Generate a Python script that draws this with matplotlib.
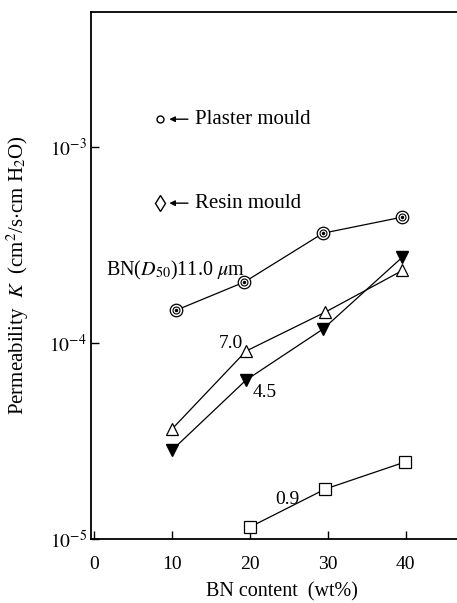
import numpy as np
import matplotlib.pyplot as plt

plt.rcParams['font.family'] = ['Liberation Serif', 'DejaVu Serif']
plt.rcParams['mathtext.fontset'] = 'stix'

# BN content (wt%)
bn_110 = [10.5, 19.3, 29.4, 39.5]
k_110 = [1.47e-4, 2.05e-4, 3.64e-4, 4.39e-4]

bn_70 = [10, 19.5, 29.7, 39.6]
k_70 = [3.64e-5, 9.1e-5, 1.44e-4, 2.35e-4]

bn_45 = [10, 19.5, 29.4, 39.6]
k_45 = [2.84e-5, 6.47e-5, 1.18e-4, 2.75e-4]

bn_09 = [20, 29.7, 39.9]
k_09 = [1.15e-5, 1.8e-5, 2.47e-5]

plaster_k = 1.39e-3
resin_k = 5.18e-4

fig = plt.figure(figsize=(4.57, 6.03), dpi=100)
ax = fig.add_axes([91 / 457, 1 - 539 / 603, 1 - 91 / 457, (539 - 12) / 603])
ax.set_yscale('log')
ax.set_xlim(-0.4, 46.6)
ax.set_ylim(1e-5, 4.9e-3)

lw = 0.9
# 11.0 um: double circle
ax.plot(bn_110, k_110, '-', color='k', lw=lw, marker='o', ms=9,
        mfc='white', mec='k', mew=0.9)
ax.plot(bn_110, k_110, 'o', ms=5, mfc='white', mec='k', mew=0.8)
ax.plot(bn_110, k_110, 'o', ms=1.5, color='k')
# 7.0 um: open triangle
ax.plot(bn_70, k_70, '-', color='k', lw=lw, marker='^', ms=9,
        mfc='white', mec='k', mew=0.9)
# 4.5 um: filled inverted triangle
ax.plot(bn_45, k_45, '-', color='k', lw=lw, marker='v', ms=9,
        mfc='k', mec='k')
# 0.9 um: open square
ax.plot(bn_09, k_09, '-', color='k', lw=lw, marker='s', ms=9,
        mfc='white', mec='k', mew=0.9)

# mould reference points
ax.plot([8.5], [plaster_k], 'o', ms=5, mfc='white', mec='k', mew=1.0)
ax.plot([8.5], [resin_k], 'd', ms=8, mfc='white', mec='k', mew=1.0)
ax.annotate('', xy=(9.3, plaster_k), xytext=(12.4, plaster_k),
            arrowprops=dict(arrowstyle='-|>', color='k', lw=1.0,
                            mutation_scale=8))
ax.annotate('', xy=(9.3, resin_k), xytext=(12.4, resin_k),
            arrowprops=dict(arrowstyle='-|>', color='k', lw=1.0,
                            mutation_scale=8))
ax.text(13.0, plaster_k, 'Plaster mould', fontsize=15, va='center')
ax.text(13.0, resin_k, 'Resin mould', fontsize=15, va='center')

ax.text(1.5, 2.35e-4, r'BN($D_{50}$)11.0 $\mu$m', fontsize=14.5, va='center')
ax.text(16.0, 1.0e-4, '7.0', fontsize=14, va='center')
ax.text(20.3, 5.6e-5, '4.5', fontsize=14, va='center')
ax.text(23.2, 1.6e-5, '0.9', fontsize=14, va='center')

ax.set_xticks([0, 10, 20, 30, 40])
ax.set_yticks([1e-5, 1e-4, 1e-3])
ax.set_yticklabels([r'$10^{-5}$', r'$10^{-4}$', r'$10^{-3}$'])
ax.yaxis.set_minor_locator(plt.NullLocator())
ax.tick_params(direction='in', length=6, width=1, labelsize=14)
ax.tick_params(axis='x', pad=12)
ax.tick_params(axis='y', pad=3)
ax.spines['right'].set_visible(False)
for s in ['left', 'bottom', 'top']:
    ax.spines[s].set_linewidth(1.3)

ax.set_ylabel(r'Permeability  $K$  (cm$^2$/s$\cdot$cm H$_2$O)', fontsize=15)
ax.yaxis.set_label_coords(-0.165, 0.5)
fig.text(282 / 457, 1 - 592 / 603, 'BN content  (wt%)', fontsize=14.5,
         ha='center', va='center')

fig.savefig('out.png', dpi=100)
